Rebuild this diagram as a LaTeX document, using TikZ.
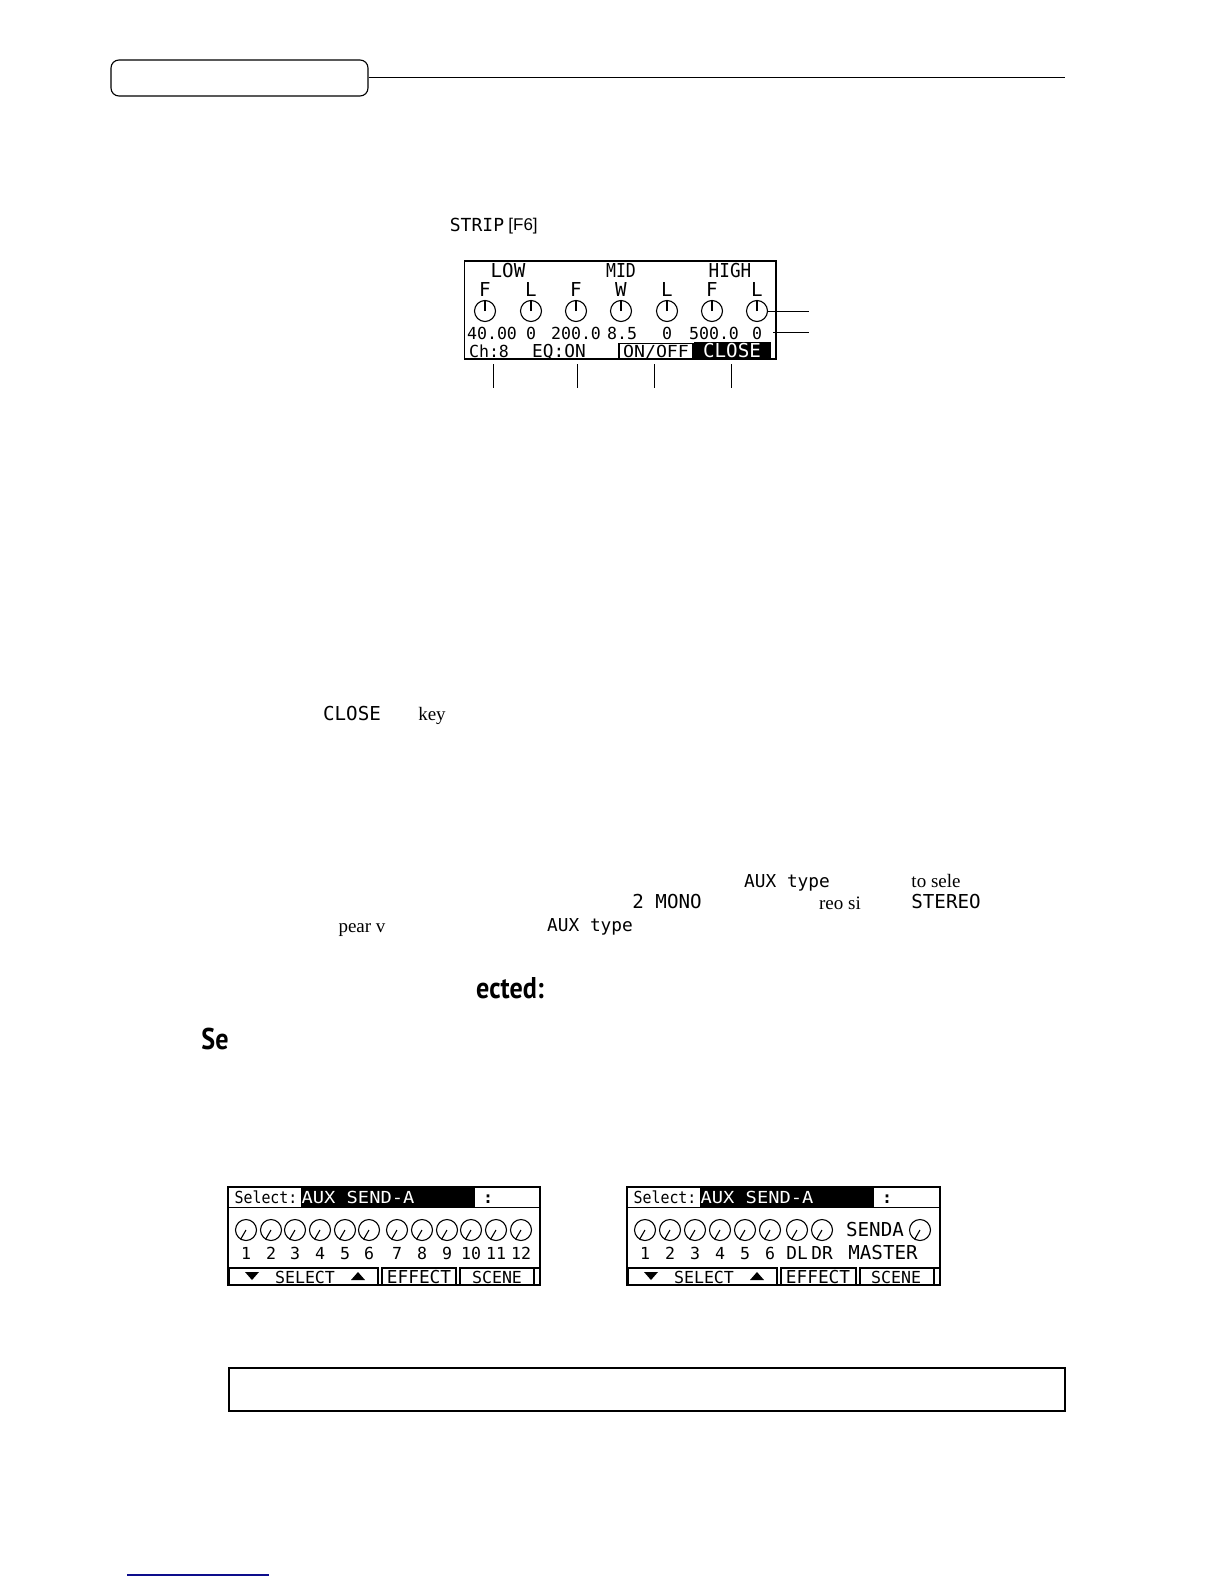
\documentclass[tikz,border=0pt]{standalone}
\usepackage{tikz}
\usepackage{xcolor}
\usepackage{fontspec}
\setmainfont{Liberation Serif}
\newfontfamily\lcdfont{DejaVu Sans Mono}
\newfontfamily\labelfont{Liberation Sans}
\newfontfamily\headfont{PT Sans}
\definecolor{footblue}{rgb}{0.05,0.05,0.55}
\begin{document}
\begin{tikzpicture}[x=0.5pt,y=-0.5pt]
	\tikzstyle{every node}+=[inner sep=0pt]
	\tikzstyle{lcd}=[font=\lcdfont\fontsize{8.3}{9}\selectfont,black,text height=6pt,text depth=0pt]
	\tikzstyle{lcdbig}=[lcd,font=\lcdfont\fontsize{9.6}{10}\selectfont]
	\tikzstyle{lcdmid}=[lcd,font=\lcdfont\fontsize{8.9}{10}\selectfont]
	\tikzstyle{lcdwhite}=[lcd,white]
	\tikzstyle{knob}=[draw=black,circle,line width=0.55pt,minimum size=10.5pt]
	\tikzstyle{screen}=[draw=black,line width=0.8pt,fill=none]
	\tikzstyle{serif}=[font=\fontsize{9.5}{11}\selectfont,black]
	\tikzstyle{head}=[font=\headfont\bfseries\fontsize{15}{17}\selectfont,black,xscale=0.87]
	\tikzstyle{leader}=[black,line width=0.5pt]
	\useasboundingbox (0,0) rectangle (1224,1584);
	% page head
	\node [draw=black,rounded corners=4pt,line width=0.55pt,minimum width=128.5pt,minimum height=18pt] (tab) at (239.5,78) {};
	\coordinate (tabend) at (1065,78);
	\draw [leader] (tab.east) -- (tabend);
	% text scraps
	\node [lcd,font=\lcdfont\fontsize{9}{10}\selectfont] (stripkey) at (477,225) {STRIP};
	\node [font=\labelfont\fontsize{8.5}{10}\selectfont,anchor=west] (stripf) at (508,226) {[F6]};
	\node [lcdbig] (closekey) at (352,714) {CLOSE};
	\node [serif] (keyword) at (432,716) {key};
	\node [lcdmid] (auxa) at (787,881) {AUX type};
	\node [serif] (sele) at (936,881) {to sele};
	\node [lcdbig] (mono) at (667,902) {2 MONO};
	\node [serif] (reosi) at (840,903) {reo si};
	\node [lcdbig] (stereo) at (946,902) {STEREO};
	\node [serif] (pearv) at (362,930) {pear v};
	\node [lcdmid] (auxb) at (590,925) {AUX type};
	\node [head] (ected) at (510,988) {ected:};
	\node [head] (sehead) at (215,1039) {Se};
	% strip screen
	\node [screen,minimum width=155.75pt,minimum height=49pt] (stripscr) at (620.25,310) {};
	\node [lcdbig] (low) at (508,271) {LOW};
	\node [lcdbig,xscale=0.86] (mid) at (621,271) {MID};
	\node [lcdbig,xscale=0.92] (high) at (730,271) {HIGH};
	\foreach \n/\x/\t in {a/485/F,b/531/L,c/576/F,d/621/W,e/667/L,f/712/F,g/757/L}{
		\node [lcdbig] (band\n) at (\x,290) {\t};
		\node [knob] (knob\n) at (\x,311) {};
		\draw [black,line width=0.55pt] (knob\n.center) -- (knob\n.north);
	}
	\node [lcd] (vala) at (492,333) {40.00};
	\node [lcd] (valb) at (531,333) {0};
	\node [lcd] (valc) at (576,333) {200.0};
	\node [lcd] (vald) at (622,333) {8.5};
	\node [lcd] (vale) at (667,333) {0};
	\node [lcd] (valf) at (714,333) {500.0};
	\node [lcd] (valg) at (757,333) {0};
	\node [lcd] (softch) at (489,351) {Ch:8};
	\node [lcdmid] (softeq) at (559,351) {EQ:ON};
	\node [draw=black,line width=0.8pt,minimum width=37pt,minimum height=7.5pt] (softon) at (656,351) {};
	\node [lcd,xscale=1.1] (softontext) at (656,351) {ON/OFF};
	\node [fill=black,minimum width=38.5pt,minimum height=8.5pt] (softclose) at (732.5,350.5) {};
	\node [lcdbig,white] (softclosetext) at (732,351) {CLOSE};
	% leaders
	\coordinate (leadknob) at (809,311);
	\coordinate (leadvalstart) at (773,332);
	\coordinate (leadval) at (809,332);
	\draw [leader] (knobg.east) -- (leadknob);
	\draw [leader] (leadvalstart) -- (leadval);
	\foreach \n/\x in {a/493,b/577.5,c/654.5,d/731.5}{
		\coordinate (softtop\n) at (\x,364);
		\coordinate (softend\n) at (\x,388);
		\draw [leader] (softtop\n) -- (softend\n);
	}
	% aux screen 12 channels
	\node [screen,minimum width=156pt,minimum height=49pt] (auxl) at (384,1236) {};
	\node [fill=black,minimum width=87pt,minimum height=10pt] (auxlbar) at (388,1197) {};
	\node [lcd,xscale=0.9] (auxlsel) at (266,1197) {Select:};
	\node [lcdwhite,xscale=1.13] (auxltitle) at (358,1197) {AUX SEND-A};
	\node [lcd,font=\lcdfont\bfseries\fontsize{8.3}{9}\selectfont] (auxlcolon) at (488,1197) {:};
	\coordinate (auxlrulea) at (228,1207);
	\coordinate (auxlruleb) at (540,1207);
	\draw [leader] (auxlrulea) -- (auxlruleb);
	\foreach \n/\x in {1/246,2/271,3/295,4/320,5/345,6/369,7/397,8/422,9/447,10/471,11/496,12/521}{
		\node [knob] (lk\n) at (\x,1230) {};
		\draw [black,line width=0.55pt] (lk\n.center) -- (lk\n.240);
		\node [lcd] (ln\n) at (\x,1253) {\n};
	}
	\draw [screen] (229,1268) rectangle (378,1285);
	\draw [screen] (382,1268) rectangle (456,1285);
	\draw [screen] (460,1268) rectangle (534,1285);
	\draw [screen] (534,1268) -- (540,1268);
	\node [lcd] (lselect) at (305,1277) {SELECT};
	\node [lcdmid] (leffect) at (419,1277) {EFFECT};
	\node [lcd] (lscene) at (497,1277) {SCENE};
	\fill [black] (245,1272) -- (259,1272) -- (252,1280) -- cycle;
	\fill [black] (351,1280) -- (365,1280) -- (358,1272) -- cycle;
	% aux screen stereo
	\node [screen,minimum width=156.5pt,minimum height=49pt] (auxr) at (783.5,1236) {};
	\node [fill=black,minimum width=87pt,minimum height=10pt] (auxrbar) at (787,1197) {};
	\node [lcd,xscale=0.9] (auxrsel) at (665,1197) {Select:};
	\node [lcdwhite,xscale=1.13] (auxrtitle) at (757,1197) {AUX SEND-A};
	\node [lcd,font=\lcdfont\bfseries\fontsize{8.3}{9}\selectfont] (auxrcolon) at (887,1197) {:};
	\coordinate (auxrrulea) at (627,1207);
	\coordinate (auxrruleb) at (940,1207);
	\draw [leader] (auxrrulea) -- (auxrruleb);
	\foreach \n/\x in {1/645,2/670,3/695,4/720,5/745,6/770}{
		\node [knob] (rk\n) at (\x,1230) {};
		\draw [black,line width=0.55pt] (rk\n.center) -- (rk\n.240);
		\node [lcd] (rn\n) at (\x,1253) {\n};
	}
	\foreach \n/\x/\t in {dl/797/DL,dr/822/DR}{
		\node [knob] (rk\n) at (\x,1230) {};
		\draw [black,line width=0.55pt] (rk\n.center) -- (rk\n.240);
		\node [lcdmid] (rn\n) at (\x,1253) {\t};
	}
	\node [knob] (rkmaster) at (920,1230) {};
	\draw [black,line width=0.55pt] (rkmaster.center) -- (rkmaster.240);
	\node [lcdbig] (rsenda) at (875,1230) {SENDA};
	\node [lcdbig] (rmaster) at (883,1253) {MASTER};
	\draw [screen] (628,1268) rectangle (777,1285);
	\draw [screen] (781,1268) rectangle (856,1285);
	\draw [screen] (860,1268) rectangle (934,1285);
	\draw [screen] (934,1268) -- (940,1268);
	\node [lcd] (rselect) at (704,1277) {SELECT};
	\node [lcdmid] (reffect) at (818,1277) {EFFECT};
	\node [lcd] (rscene) at (896,1277) {SCENE};
	\fill [black] (644,1272) -- (658,1272) -- (651,1280) -- cycle;
	\fill [black] (750,1280) -- (764,1280) -- (757,1272) -- cycle;
	% note box and foot rule
	\node [draw=black,line width=0.8pt,minimum width=418pt,minimum height=21.5pt] (notebox) at (647,1389.5) {};
	\coordinate (foota) at (127,1575);
	\coordinate (footb) at (269,1575);
	\draw [footblue,line width=0.7pt] (foota) -- (footb);
\end{tikzpicture}
\end{document}
